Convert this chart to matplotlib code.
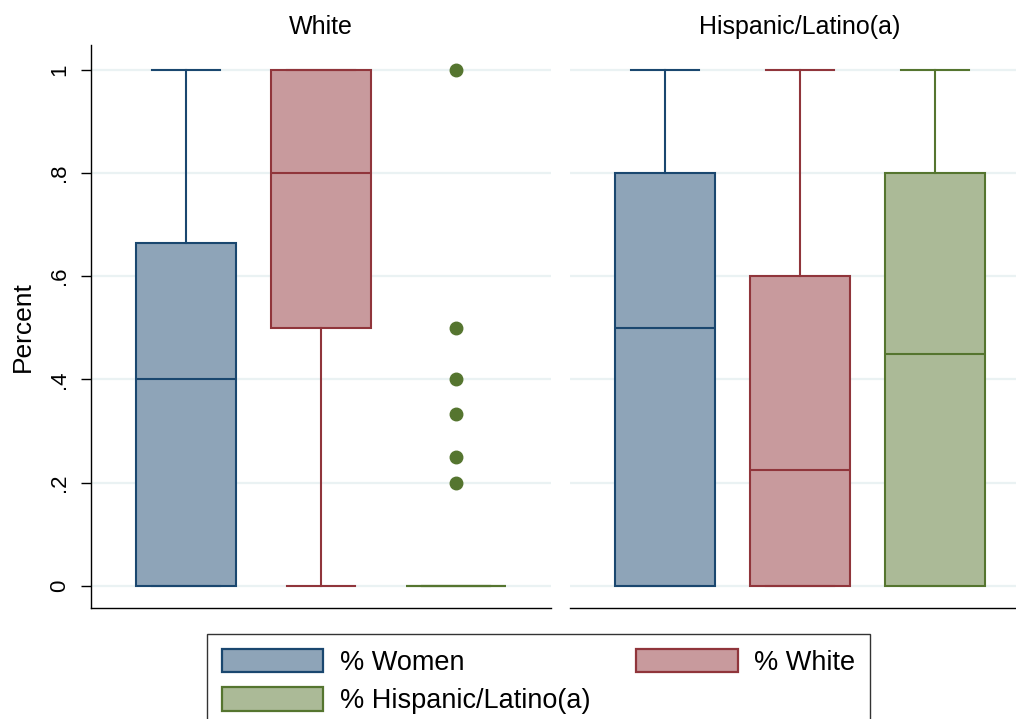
import matplotlib
matplotlib.use("Agg")
import matplotlib.pyplot as plt
from matplotlib.patches import Patch

plt.rcParams["font.family"] = ["Liberation Sans", "DejaVu Sans"]

# -- data --
PANELS = ["White", "Hispanic/Latino(a)"]
SERIES = ["% Women", "% White", "% Hispanic/Latino(a)"]
Q1 = [[0.0, 0.5, 0.0], [0.0, 0.0, 0.0]]
MED = [[0.4, 0.8, 0.0], [0.5, 0.225, 0.45]]
Q3 = [[0.665, 1.0, 0.0], [0.8, 0.6, 0.8]]
WLO = [[0.0, 0.0, 0.0], [0.0, 0.0, 0.0]]
WHI = [[1.0, 1.0, 0.0], [1.0, 1.0, 1.0]]
FLIERS = [[[], [], [1.0, 0.5, 0.4, 0.333, 0.25, 0.2]], [[], [], []]]
YTICKS = [0, 0.2, 0.4, 0.6, 0.8, 1.0]
YTICKLABELS = ["0", ".2", ".4", ".6", ".8", "1"]

EDGE = ["#1a476f", "#90353b", "#55752f"]
FILL = ["#8ea4b8", "#c89a9d", "#abba97"]
GRID = "#eaf2f3"

W, H = 1016, 719
fig = plt.figure(figsize=(W / 100, H / 100), dpi=100)


def px_axes(x0, y0, x1, y1):
    return fig.add_axes([x0 / W, 1 - y1 / H, (x1 - x0) / W, (y1 - y0) / H])


axes = [px_axes(91, 45, 551, 608), px_axes(570, 45, 1030, 608)]

for p, ax in enumerate(axes):
    stats = []
    for i in range(3):
        stats.append(dict(q1=Q1[p][i], med=MED[p][i], q3=Q3[p][i],
                          whislo=WLO[p][i], whishi=WHI[p][i],
                          fliers=FLIERS[p][i]))
    for i, st in enumerate(stats):
        ax.bxp([st], positions=[i + 1], widths=0.74, capwidths=0.5,
               patch_artist=True, showfliers=True,
               boxprops=dict(facecolor=FILL[i], edgecolor=EDGE[i], lw=1.5),
               medianprops=dict(color=EDGE[i], lw=1.5),
               whiskerprops=dict(color=EDGE[i], lw=1.5),
               capprops=dict(color=EDGE[i], lw=1.5),
               flierprops=dict(marker="o", markersize=9, markerfacecolor=EDGE[i],
                               markeredgecolor=EDGE[i]),
               zorder=3)

    ax.set_xlim(0.3, 3.7)
    ax.set_ylim(-0.043, 1.048)
    ax.set_xticks([])
    ax.set_yticks(YTICKS)
    for y in YTICKS:
        ax.axhline(y, color=GRID, lw=1.6, zorder=1)
    ax.set_title(PANELS[p], fontsize=18, pad=8)
    for s in ["top", "right"]:
        ax.spines[s].set_visible(False)
    ax.spines["bottom"].set_linewidth(1.0)

    if p == 0:
        ax.set_yticklabels(YTICKLABELS, rotation=90, va="center", fontsize=16)
        ax.tick_params(axis="y", length=7, width=1, pad=8)
        ax.set_ylabel("Percent", fontsize=19, labelpad=10)
        ax.spines["left"].set_linewidth(1.0)
    else:
        ax.spines["left"].set_visible(False)
        ax.tick_params(axis="y", left=False, labelleft=False)

handles = [Patch(facecolor=FILL[i], edgecolor=EDGE[i], lw=1.6) for i in range(3)]
# order so that Women/White share the first row
order = [0, 2, 1]
leg = fig.legend([handles[i] for i in order], [SERIES[i] for i in order],
                 ncol=2, loc="upper left", bbox_to_anchor=(207 / W, 1 - 634 / H),
                 fontsize=19.5, frameon=True, fancybox=False, edgecolor="black",
                 handlelength=3.75, handleheight=0.95, handletextpad=0.6,
                 columnspacing=1.7, labelspacing=0.42, borderpad=0.55,
                 borderaxespad=0)
leg.get_frame().set_linewidth(1.0)

plt.savefig("out.png", dpi=100)
